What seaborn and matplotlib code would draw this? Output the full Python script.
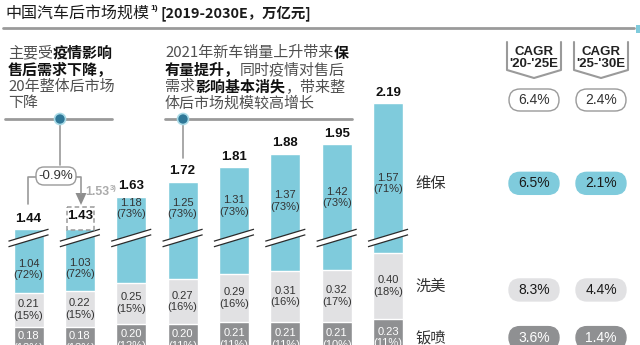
import numpy as np
import pandas as pd
import matplotlib
matplotlib.use("Agg")
import matplotlib.pyplot as plt
import seaborn as sns
from matplotlib.transforms import Affine2D
from matplotlib.patches import FancyBboxPatch, Polygon, Circle, Rectangle
from matplotlib.lines import Line2D

# ---------------- data ----------------
years = ["2019", "2020", "2021", "2022", "2023", "2024", "2025E", "2030E"]
totals = [1.44, 1.43, 1.63, 1.72, 1.81, 1.88, 1.95, 2.19]
maint = [1.04, 1.03, 1.18, 1.25, 1.31, 1.37, 1.42, 1.57]
maint_pct = [72, 72, 73, 73, 73, 73, 73, 71]
wash = [0.21, 0.22, 0.25, 0.27, 0.29, 0.31, 0.32, 0.40]
wash_pct = [15, 15, 15, 16, 16, 16, 17, 18]
paint = [0.18, 0.18, 0.20, 0.20, 0.21, 0.21, 0.21, 0.23]
paint_pct = [13, 13, 12, 11, 11, 11, 10, 11]
segments = ["维保", "洗美", "钣喷"]
cagr_headers = ["CAGR\n'20-'25E", "CAGR\n'25-'30E"]
cagr_total = ["6.4%", "2.4%"]
cagr_maint = ["6.5%", "2.1%"]
cagr_wash = ["8.3%", "4.4%"]
cagr_paint = ["3.6%", "1.4%"]
covid_change = "-0.9%"
pre_covid_2020 = "1.53"
title_cn = "中国汽车后市场规模"
title_rest = "[2019-2030E，万亿元]"
note1 = [[("主要受", False), ("疫情影响", True)],
         [("售后需求下降，", True)],
         [("20年整体后市场", False)],
         [("下降", False)]]
note2 = [[("2021年新车销量上升带来", False), ("保", True)],
         [("有量提升，", True), ("同时疫情对售后", False)],
         [("需求", False), ("影响基本消失", True), ("，带来整", False)],
         [("体后市场规模较高增长", False)]]

# ---------------- style ----------------
BLUE = "#7FCBDC"
LGRAY = "#E1E1E3"
DGRAY = "#8F9092"
LINEG = "#9A9A9A"
CJK = ["Noto Sans CJK SC", "DejaVu Sans"]
NARROW = ["Liberation Sans Narrow", "Liberation Sans", "DejaVu Sans"]
SANS = ["Liberation Sans", "DejaVu Sans"]
BREAK = 0.655  # amount cut out of the 维保 segment by the axis break

sns.set_theme(style="white")
plt.rcParams["font.family"] = CJK

W, H = 640, 345
fig = plt.figure(figsize=(6.4, 3.45), dpi=100)
ax = fig.add_axes([0, 0, 1, 1])
px = Affine2D().scale(1 / W, -1 / H).translate(0, 1) + fig.transFigure
renderer = fig.canvas.get_renderer()

p = np.array(paint)
df = pd.DataFrame({
    "year": years,
    "blue": p + np.array(wash) + np.array(maint) - BREAK,
    "gray": p + np.array(wash),
    "dark": p,
})
bw = 0.584
for col, c in [("blue", BLUE), ("gray", LGRAY), ("dark", DGRAY)]:
    sns.barplot(data=df, x="year", y=col, color=c, width=bw, saturation=1,
                edgecolor="white", linewidth=1.0, ax=ax, errorbar=None)
ax.set_xlim(-0.555, 11.906)
ax.set_ylim(0.070, 2.174)
ax.axis("off")

def ypx(v):
    return H - ax.transData.transform((0, v))[1]

# axis break markers
brk_c = 0.7226
dy = 0.0366
hh = 0.017
for i in range(len(years)):
    xl, xr = i - 0.39, i + 0.39
    ax.add_patch(Polygon([(xl, brk_c - dy - hh), (xr, brk_c + dy - hh),
                          (xr, brk_c + dy + hh), (xl, brk_c - dy + hh)],
                         closed=True, fc="white", ec="none", zorder=5))
    for s in (-hh, hh):
        ax.plot([xl, xr], [brk_c - dy + s, brk_c + dy + s], color="#2b2b2b",
                lw=0.9, zorder=6, solid_capstyle="butt")

# labels on bars
brk_top = brk_c + 0.07
blue_label_y = []
for i in range(len(years)):
    top = df["blue"][i]
    gtop = df["gray"][i]
    extra = 0.02 if i == 1 else 0.0
    ax.text(i, top + 0.064 + extra, f"{totals[i]:.2f}", ha="center", va="center",
            fontsize=9.5, fontweight="bold", family=SANS, color="#111111", zorder=7)
    if top < brk_top + 0.12:
        ly = (gtop + brk_c - 0.05) / 2
    else:
        ly = max(brk_top + 0.11, brk_top + 0.35 * (top - brk_top))
    blue_label_y.append(ly)
    ax.text(i, ly, f"{maint[i]:.2f}\n({maint_pct[i]}%)", ha="center", va="center",
            fontsize=8, family=NARROW, color="#333333", linespacing=1.2, zorder=7)
    ax.text(i, (paint[i] + gtop) / 2, f"{wash[i]:.2f}\n({wash_pct[i]}%)",
            ha="center", va="center", fontsize=8, family=NARROW, color="#333333",
            linespacing=1.2, zorder=7)
    ax.text(i, paint[i] / 2, f"{paint[i]:.2f}\n({paint_pct[i]}%)",
            ha="center", va="center", fontsize=8, family=NARROW, color="white",
            linespacing=1.2, zorder=7)

# ---------------- title ----------------
t = fig.text(5 / W, 1 - 13 / H, title_cn, fontsize=11.5, family=CJK, color="#1a1a1a",
             va="center", ha="left")
x_end = 5 + t.get_window_extent(renderer=renderer).width
t = fig.text((x_end + 1) / W, 1 - 9 / H, "1)", fontsize=6, family=SANS, fontweight="bold",
             color="#1a1a1a", va="center", ha="left")
x_end = x_end + 1 + t.get_window_extent(renderer=renderer).width
fig.text((x_end + 3) / W, 1 - 13 / H, title_rest, fontsize=10.4,
         family=["Liberation Sans Narrow", "Noto Sans CJK SC"], fontweight="bold",
         color="#1a1a1a", va="center", ha="left")
fig.add_artist(Line2D([3, 634], [28, 28], transform=px, color=LINEG, lw=2))
fig.add_artist(Rectangle((636, 25), 4, 8, transform=px, color=BLUE, lw=0))

# ---------------- notes ----------------
def rich(x0, y0, lines, size=10.8, step=16.8):
    for k, segs in enumerate(lines):
        x = x0
        for s, bold in segs:
            tt = fig.text(x / W, 1 - (y0 + k * step) / H, s, fontsize=size, family=CJK,
                          fontweight="bold" if bold else "normal",
                          color="#111111" if bold else "#505050",
                          va="center", ha="left")
            x += tt.get_window_extent(renderer=renderer).width

rich(8, 53, note1)
rich(165, 53, note2)

for (x1, x2) in [(5, 112), (165, 352)]:
    fig.add_artist(Line2D([x1, x2], [119, 119], transform=px, color=LINEG, lw=2))
fig.add_artist(Line2D([60, 60], [119, 165], transform=px, color=LINEG, lw=1.2))
fig.add_artist(Line2D([183, 183], [119, 158], transform=px, color=LINEG, lw=1.2))
for cx in (60, 183):
    fig.add_artist(Circle((cx, 119), 5.5, transform=px, fc="#2F7898", ec="#A9DAE6",
                          lw=1.2, zorder=10))

# -0.9% callout
fig.add_artist(FancyBboxPatch((36, 167), 40, 18, boxstyle="round,pad=0,rounding_size=8",
                              transform=px, fc="white", ec=LINEG, lw=1.0, zorder=9))
fig.text(56 / W, 1 - 176 / H, covid_change, fontsize=9.5, family=NARROW,
         color="#333333", ha="center", va="center", zorder=10)
fig.add_artist(Line2D([36, 28, 28], [177, 177, 204], transform=px, color=LINEG, lw=1.2))
fig.add_artist(Line2D([76, 81, 81], [177, 177, 194], transform=px, color=LINEG, lw=1.2))
fig.add_artist(Polygon([(75.5, 193), (86.5, 193), (81, 205)], closed=True, transform=px,
                       fc="#8E8E8E", ec="none"))
t = fig.text(85 / W, 1 - 192 / H, pre_covid_2020, fontsize=8.8, family=NARROW,
             fontweight="bold", color="#ABABAB", ha="left", va="center")
x_end = 85 + t.get_window_extent(renderer=renderer).width
fig.text((x_end + 0.5) / W, 1 - 189 / H, "3)", fontsize=5.5, family=SANS, fontweight="bold",
         color="#ABABAB", ha="left", va="center")
fig.add_artist(Rectangle((67, 207), 27, 23, transform=px, fill=False, ec="#9A9A9A",
                         lw=1.1, ls=(0, (3, 2))))

# ---------------- right panel ----------------
seg_rows_y = [ypx(blue_label_y[-1]), ypx((paint[-1] + df["gray"].iloc[-1]) / 2),
              ypx(paint[-1] / 2)]
for name, y in zip(segments, seg_rows_y):
    fig.text(415 / W, 1 - y / H, name, fontsize=11, family=CJK, color="#333333",
             ha="left", va="center")

col_x = [534, 601]
for cx, hdr in zip(col_x, cagr_headers):
    fig.add_artist(Line2D([cx - 27, cx - 27, cx, cx + 27, cx + 27], [42, 70, 78, 70, 42],
                          transform=px, color=LINEG, lw=1.5))
    fig.text(cx / W, 1 - 58 / H, hdr, fontsize=9.5, family=NARROW, fontweight="bold",
             color="#222222", ha="center", va="center", linespacing=1.05)

rows = [(100, cagr_total, "white", LINEG, "#333333"),
        (seg_rows_y[0], cagr_maint, BLUE, BLUE, "#1a1a1a"),
        (seg_rows_y[1] + 4, cagr_wash, LGRAY, LGRAY, "#1a1a1a"),
        (seg_rows_y[2], cagr_paint, DGRAY, DGRAY, "white")]
for y, vals, fc, ec, tc in rows:
    for cx, v in zip(col_x, vals):
        fig.add_artist(FancyBboxPatch((cx - 25, y - 11), 50, 22,
                                      boxstyle="round,pad=0,rounding_size=11",
                                      transform=px, fc=fc, ec=ec, lw=1.0))
        fig.text(cx / W, 1 - y / H, v, fontsize=10, family=NARROW, color=tc,
                 ha="center", va="center")

fig.savefig("out.png", dpi=100)
